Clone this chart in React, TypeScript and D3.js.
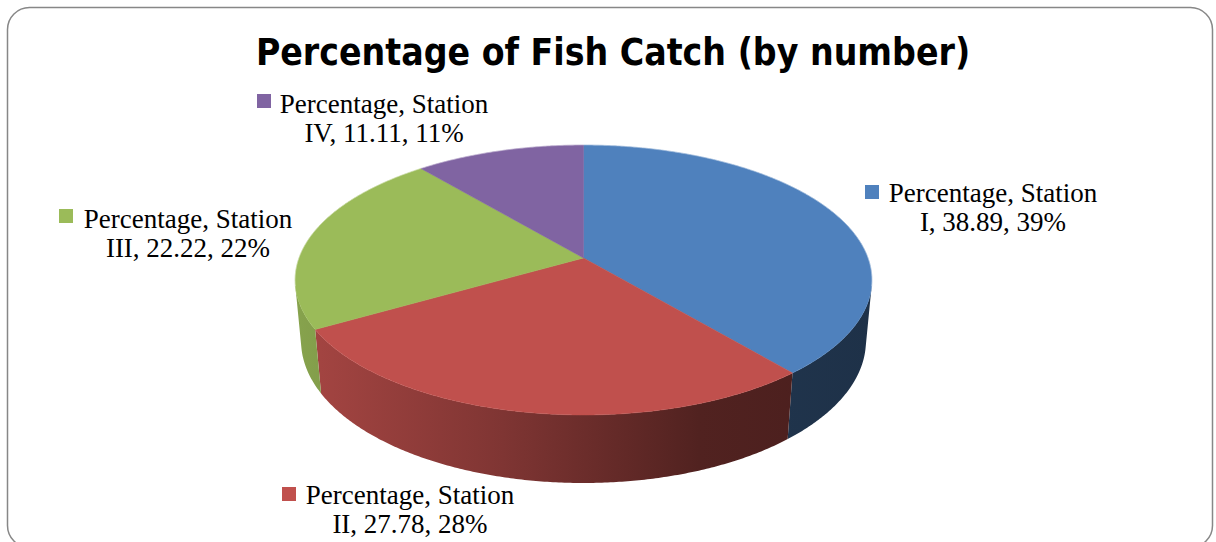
import React from "react";
import * as d3 from "d3";

const seriesName = "Percentage";
const categories = ["Station I", "Station II", "Station III", "Station IV"];
const values = [38.89, 27.78, 22.22, 11.11];
const colors = ["#4F81BD", "#C0504D", "#9BBB59", "#8064A2"];
const title = "Percentage of Fish Catch (by number)";

// label layout (centre x of text, baseline of first line, key square left/top)
const labelLayout = [
  { cx: 993, y: 202, kx: 865, ky: 185 },
  { cx: 410, y: 504, kx: 282, ky: 487 },
  { cx: 188, y: 228, kx: 59, ky: 209 },
  { cx: 384, y: 113, kx: 257, ky: 94 },
];

// 3D projection parameters
const CX = 583.5;
const CY = 258;
const F = 1548;
const D = 5.44;
const ALPHA = Math.asin(0.4617);
const H = 0.244;

function proj(theta: number, h: number): [number, number] {
  const u = Math.sin(theta);
  const v = -Math.cos(theta);
  const z = D - h * Math.sin(ALPHA) - v * Math.cos(ALPHA);
  return [CX + (F * u) / z, CY + (F * (-h * Math.cos(ALPHA) + v * Math.sin(ALPHA))) / z];
}

function shade(hex: string, k: number) {
  const c = d3.rgb(hex);
  return d3.rgb(c.r * k, c.g * k, c.b * k).formatHex();
}

export default function App() {
  const pie = d3.pie<number>().sort(null).value((d) => d);
  const arcs = pie(values);
  const line = d3.line<[number, number]>();
  const tMin = Math.acos(-1 / (D * Math.cos(ALPHA)));
  const tMax = 2 * Math.PI - tMin;
  const step = Math.PI / 360;

  const rim = (a0: number, a1: number, h: number) => {
    const pts: [number, number][] = [];
    const n = Math.max(2, Math.ceil((a1 - a0) / step));
    for (let i = 0; i <= n; i++) pts.push(proj(a0 + ((a1 - a0) * i) / n, h));
    return pts;
  };

  const walls = arcs.map((a, i) => {
    const a0 = Math.max(a.startAngle, tMin);
    const a1 = Math.min(a.endAngle, tMax);
    if (a1 <= a0) return null;
    const top = rim(a0, a1, 0);
    const bot = rim(a0, a1, -H).reverse();
    return (
      <path key={"w" + i} d={line([...top, ...bot]) + "Z"} fill={`url(#grad${i})`} />
    );
  });

  const tops = arcs.map((a, i) => {
    const pts: [number, number][] = [[CX, CY], ...rim(a.startAngle, a.endAngle, 0)];
    return <path key={"t" + i} d={line(pts) + "Z"} fill={colors[i]} stroke={colors[i]} strokeWidth={0.5} />;
  });

  const backRim = rim(tMax - 2 * Math.PI, tMin, 0);
  const total = d3.sum(values);

  return (
    <svg width={1216} height={542} style={{ position: "absolute", left: 0, top: 0 }}>
      <defs>
        {colors.map((c, i) => (
          <linearGradient key={i} id={`grad${i}`} gradientUnits="userSpaceOnUse" x1={295} x2={872} y1={0} y2={0}>
            <stop offset="0" stopColor={shade(c, 0.87)} />
            <stop offset="0.36" stopColor={shade(c, 0.66)} />
            <stop offset="0.7" stopColor={shade(c, 0.42)} />
            <stop offset="1" stopColor={shade(c, 0.38)} />
          </linearGradient>
        ))}
      </defs>
      <rect x={7.5} y={7.5} width={1205} height={540} rx={22} ry={22} fill="#fff" stroke="#878787" strokeWidth={1.5} />
      <text x={613} y={65} textAnchor="middle" fontFamily="'DejaVu Sans Condensed', 'DejaVu Sans', sans-serif" fontWeight="bold" fontSize={37} fill="#000">
        {title}
      </text>
      {walls}
      {tops}
      <path d={line(backRim)!} fill="none" stroke="#fff" strokeOpacity={0.3} strokeWidth={1} />
      {arcs.map((a, i) => {
        const L = labelLayout[i];
        const cat = categories[i].split(" ");
        const pct = Math.round((values[i] / total) * 100);
        return (
          <g key={"l" + i} fontFamily="'Liberation Serif', 'Times New Roman', serif" fontSize={27} fill="#000">
            <rect x={L.kx} y={L.ky} width={14} height={14} fill={colors[i]} />
            <text x={L.cx} y={L.y} textAnchor="middle">{`${seriesName}, ${cat[0]}`}</text>
            <text x={L.cx} y={L.y + 29} textAnchor="middle">{`${cat[1]}, ${values[i].toFixed(2)}, ${pct}%`}</text>
          </g>
        );
      })}
    </svg>
  );
}
